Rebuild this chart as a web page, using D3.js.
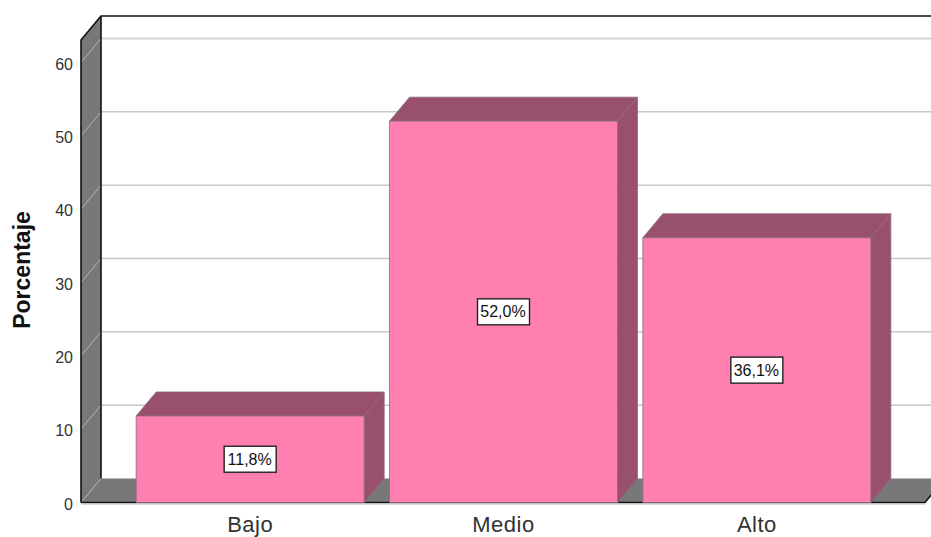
<!DOCTYPE html>
<html><head><meta charset="utf-8">
<script src="https://cdn.jsdelivr.net/npm/d3@7"></script>
<style>html,body{margin:0;padding:0;background:#fff}svg{display:block}text{font-family:"Liberation Sans",Arial,sans-serif}</style>
</head><body><svg id="c" width="931" height="537"></svg>
<script>
const categories = ["Bajo","Medio","Alto"];
const values = [11.8,52.0,36.1];
const valueLabels = ["11,8%","52,0%","36,1%"];
const yTicks = [0,10,20,30,40,50,60];
const yTitle = "Porcentaje";

const W=931,H=537, dx=20, dy=24;
const svg=d3.select("#c");
const y=d3.scaleLinear().domain([0,60]).range([502.5,62.5]);
const x=d3.scaleBand().domain(categories).range([123.5,883.5]).paddingInner(0.1).paddingOuter(0.05);
const pLeft=81, pRight=925, pBottom=y(0), pTop=40;
const poly=(pts,fill)=>svg.append("polygon").attr("points",pts.map(p=>p.join(",")).join(" ")).attr("fill",fill);

// walls
poly([[pLeft,pTop],[pLeft+dx,pTop-dy],[pLeft+dx,pBottom-dy],[pLeft,pBottom]],"#787878");
poly([[pLeft,pBottom],[pLeft+dx,pBottom-dy],[pRight+dx,pBottom-dy],[pRight,pBottom]],"#787878");
// gridlines
svg.append("g").selectAll("line").data(yTicks.slice(1)).join("line")
  .attr("x1",pLeft+dx).attr("x2",W).attr("y1",d=>y(d)-dy).attr("y2",d=>y(d)-dy)
  .attr("stroke",d=>d===60?"#d4d4d4":"#c8c8c8").attr("stroke-width",d=>d===60?2:1.5);
svg.append("g").selectAll("line").data(yTicks).join("line")
  .attr("x1",pLeft).attr("x2",pLeft+dx).attr("y1",d=>y(d)).attr("y2",d=>y(d)-dy)
  .attr("stroke","#b4b4b4").attr("stroke-width",1);
// frame
const frame=(pts,w)=>svg.append("path").attr("d",d3.line()(pts)).attr("fill","none").attr("stroke","#111").attr("stroke-width",w||1.6);
frame([[pLeft,pBottom],[pLeft,pTop],[pLeft+dx,pTop-dy],[W,pTop-dy]]);
frame([[pLeft+dx,pTop-dy],[pLeft+dx,pBottom-dy]]);
frame([[pLeft,pBottom],[pRight,pBottom],[pRight+dx,pBottom-dy]]);
svg.append("line").attr("x1",pLeft).attr("x2",pRight).attr("y1",pBottom+1.5).attr("y2",pBottom+1.5).attr("stroke","#b8b8b8").attr("stroke-width",1);

// bars
const bars=svg.append("g").selectAll("g").data(categories).join("g");
bars.each(function(c,i){
  const g=d3.select(this),x0=x(c),x1=x0+x.bandwidth(),yt=y(values[i]);
  const p=(pts,f)=>g.append("polygon").attr("points",pts.map(q=>q.join(",")).join(" ")).attr("fill",f).attr("stroke","#8a6a7c").attr("stroke-width",0.8);
  p([[x0,yt],[x0+dx,yt-dy],[x1+dx,yt-dy],[x1,yt]],"#99506e");
  p([[x1,yt],[x1+dx,yt-dy],[x1+dx,pBottom-dy],[x1,pBottom]],"#99506e");
  p([[x0,yt],[x1,yt],[x1,pBottom],[x0,pBottom]],"#ff80b0");
  const cx=x0+x.bandwidth()/2, cy=(yt+pBottom)/2;
  g.append("rect").attr("x",cx-26).attr("y",cy-13).attr("width",52).attr("height",26).attr("fill","#fff").attr("stroke","#222").attr("stroke-width",1.4);
  g.append("text").attr("x",cx-0.5).attr("y",cy+5.5).attr("text-anchor","middle").attr("font-size",16).attr("fill","#111").text(valueLabels[i]);
});

// axes
const ay=svg.append("g").attr("transform",`translate(${pLeft},1.5)`).call(d3.axisLeft(y).tickValues(yTicks).tickSize(0).tickPadding(8));
ay.select(".domain").remove();
ay.selectAll("text").attr("font-size",16).attr("font-family",'"Liberation Sans",Arial,sans-serif').attr("fill","#333");
const ax=svg.append("g").attr("transform",`translate(0,${pBottom})`).call(d3.axisBottom(x).tickSize(0).tickPadding(13.5));
ax.select(".domain").remove();
ax.selectAll("text").attr("font-size",22).attr("letter-spacing",0.5).attr("font-family",'"Liberation Sans",Arial,sans-serif').attr("fill","#333");
svg.append("text").attr("transform","translate(30,270) rotate(-90)").attr("text-anchor","middle")
  .attr("font-size",23).attr("font-weight","bold").attr("fill","#111").text(yTitle);
</script></body></html>
